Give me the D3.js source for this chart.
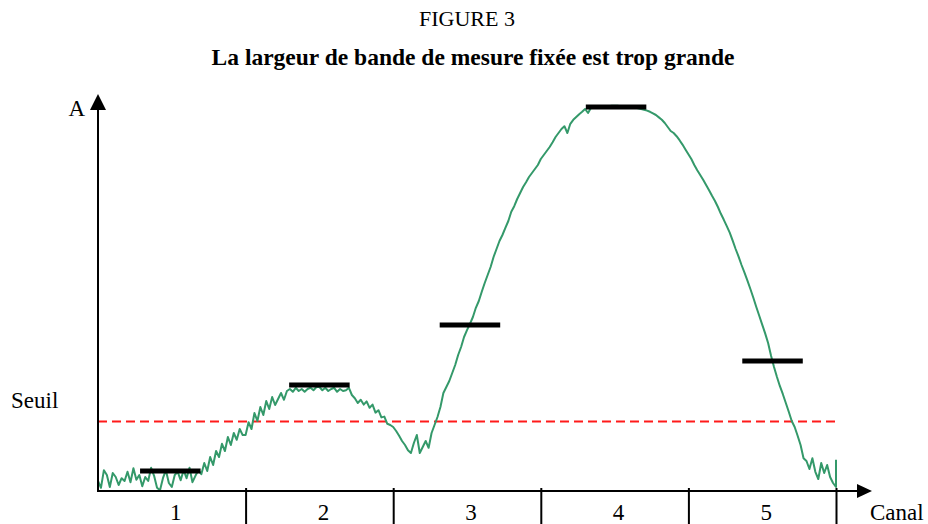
<!DOCTYPE html>
<html lang="fr">
<head>
    <meta charset="UTF-8">
    <title>Figure 3</title>
    <script src="https://d3js.org/d3.v7.min.js"></script>
    <style>
        body {
            margin: 0;
            background: #fff;
        }
        svg text {
            font-family: "Liberation Serif", "Times New Roman", serif;
            fill: #000;
        }
    </style>
</head>
<body>
<div id="chart"></div>
<script>
    // ---- data ----
    var channels = ["1", "2", "3", "4", "5"];
    var samplesPerChannel = 50;

    // measured spectrum, one value every 1/50 of a channel (A, arbitrary units)
    var spectrum = [
        // canal 1
        2.5, 0.8, 5.2, 4, 1, 4.5, 3.5, 1.5, 3.2, 2.5,
        4.8, 2.2, 5.7, 2.8, 4, 1.2, 3.5, 2.5, 5.8, 3.8,
        0.8, 0.2, 3.2, 5.2, 2, 1, 4, 4.8, 2.7, 5.2,
        3.2, 5.8, 2.2, 3.8, 5.2, 4.2, 7, 5, 8.5, 6.5,
        10, 8.5, 11.8, 10, 13.5, 11.5, 14.5, 12.8, 15.5, 14,
        // canal 2
        14, 17.2, 15.5, 19.5, 17.5, 21, 19, 22.5, 20.5, 23.5,
        21.5, 23, 24.5, 22.8, 25, 25.5, 24.8, 25.8, 25, 25.5,
        24.8, 25.5, 25.8, 25.2, 26, 26, 25.2, 25.8, 25, 25.5,
        25.8, 24.8, 25.5, 25, 25.2, 25.8, 24, 23.2, 22, 22.8,
        21.6, 22.4, 20.8, 21.6, 19.6, 20.2, 18.4, 18.6, 16.8, 16.5,
        // canal 3
        16, 15, 13.8, 12.5, 11.5, 10.2, 9.5, 12, 14, 9.5,
        11, 12.5, 10.8, 14.5, 16.5, 18.5, 21, 24.5, 26, 27.5,
        29.5, 31.5, 34, 36, 38.5, 40.2, 41.8, 43.5, 45.8, 47.5,
        49.8, 52, 54, 56, 58.5, 60.5, 62.5, 64, 65.8, 67.5,
        69.8, 71.2, 73, 74.5, 76, 77.2, 78.5, 79.5, 80.5, 81.5,
        // canal 4
        83, 84, 85, 86, 87.2, 88.5, 89.5, 90.5, 91.2, 89.5,
        91.8, 92.8, 93.5, 94.2, 94.8, 95.5, 94.5, 95.8, 95.8, 96,
        96, 96.2, 96.2, 96.2, 96.3, 96.3, 96.3, 96.2, 96.2, 96.1,
        96, 95.9, 95.8, 95.7, 95.5, 95.3, 95.1, 94.8, 94.4, 94,
        93.4, 92.8, 92, 91, 90, 89.5, 88.7, 87.7, 86.6, 85.4,
        // canal 5
        84.2, 83, 81.5, 80.2, 79, 77.8, 76.5, 75.2, 73.8, 72.5,
        71, 69.3, 67.8, 66.2, 64.6, 62.6, 60.5, 58.6, 56.5, 54.6,
        52.6, 50.5, 48.3, 46, 43.8, 41.6, 39.4, 37, 33.8, 31,
        28.5, 26.2, 24.2, 22, 19.8, 17.5, 16, 13.8, 11.5, 8.2,
        7.5, 5.5, 8.2, 4.8, 3, 7, 4.5, 6.5, 3.5, 2,
        1
    ];
    var tailSpike = 7.8;   // last sample jumps back up at the edge of canal 5

    // level measured in each canal with the fixed measurement bandwidth
    var barLevels = [5, 26.5, 41.5, 96, 32.5];
    var barCenters = [0.49, 1.5, 2.52, 3.51, 4.57];   // in canal units
    var barWidth = 0.41;                              // in canal units

    var threshold = 17.4;   // "Seuil"

    // ---- layout ----
    var W = 928, H = 524;
    var x0 = 98, x1 = 836, yBase = 491, yPeak = 107;

    var svg = d3.select("#chart")
        .append("svg")
        .attr("width", W)
        .attr("height", H);

    var x = d3.scaleLinear().domain([0, channels.length]).range([x0, x1]);
    var y = d3.scaleLinear().domain([0, 96]).range([yBase, yPeak]);

    // titles
    svg.append("text")
        .attr("x", 467).attr("y", 26)
        .attr("text-anchor", "middle")
        .style("font-size", "22px")
        .text("FIGURE 3");

    svg.append("text")
        .attr("x", 473).attr("y", 65)
        .attr("text-anchor", "middle")
        .style("font-size", "23.5px")
        .style("font-weight", "bold")
        .text("La largeur de bande de mesure fixée est trop grande");

    // threshold (dashed red)
    svg.append("line")
        .attr("x1", x(0)).attr("x2", x(channels.length))
        .attr("y1", y(threshold)).attr("y2", y(threshold))
        .attr("stroke", "#ff1a1a")
        .attr("stroke-width", 2)
        .attr("stroke-dasharray", "9,5");

    // spectrum
    var points = spectrum.map(function(v, i) { return [i / samplesPerChannel, v]; });
    points.push([channels.length, tailSpike]);

    svg.append("path")
        .datum(points)
        .attr("fill", "none")
        .attr("stroke", "#34996a")
        .attr("stroke-width", 2)
        .attr("stroke-linejoin", "round")
        .attr("d", d3.line()
            .x(function(d) { return x(d[0]); })
            .y(function(d) { return y(d[1]); }));

    // measured levels (black bars)
    svg.append("g")
        .selectAll("line")
        .data(barLevels)
        .enter()
        .append("line")
        .attr("x1", function(d, i) { return x(barCenters[i] - barWidth / 2); })
        .attr("x2", function(d, i) { return x(barCenters[i] + barWidth / 2); })
        .attr("y1", function(d) { return y(d); })
        .attr("y2", function(d) { return y(d); })
        .attr("stroke", "#000")
        .attr("stroke-width", 5);

    // axes
    var xAxis = d3.axisBottom(x)
        .tickValues(d3.range(1, channels.length + 1))
        .tickSizeInner(36)
        .tickSizeOuter(0)
        .tickFormat("");

    var gx = svg.append("g")
        .attr("transform", "translate(0," + (yBase - 3) + ")")
        .call(xAxis);
    gx.select(".domain").remove();
    gx.selectAll(".tick line").attr("stroke", "#000").attr("stroke-width", 2);

    svg.append("line")
        .attr("x1", x0 - 1).attr("x2", 860)
        .attr("y1", yBase).attr("y2", yBase)
        .attr("stroke", "#000").attr("stroke-width", 2);
    svg.append("path")
        .attr("d", "M872," + yBase + "L857," + (yBase - 7) + "L857," + (yBase + 7) + "Z")
        .attr("fill", "#000");

    svg.append("line")
        .attr("x1", x0).attr("x2", x0)
        .attr("y1", yBase + 1).attr("y2", 106)
        .attr("stroke", "#000").attr("stroke-width", 2);
    svg.append("path")
        .attr("d", "M" + x0 + ",94L" + (x0 - 8) + ",110L" + (x0 + 8) + ",110Z")
        .attr("fill", "#000");

    // channel labels
    svg.append("g")
        .selectAll("text")
        .data(channels)
        .enter()
        .append("text")
        .attr("x", function(d, i) { return x(i + 0.5) + 4; })
        .attr("y", 519.5)
        .attr("text-anchor", "middle")
        .style("font-size", "23px")
        .text(function(d) { return d; });

    // axis names
    svg.append("text")
        .attr("x", 85).attr("y", 116)
        .attr("text-anchor", "end")
        .style("font-size", "23px")
        .text("A");

    svg.append("text")
        .attr("x", 870).attr("y", 519.5)
        .style("font-size", "23px")
        .text("Canal");

    svg.append("text")
        .attr("x", 11).attr("y", 408)
        .style("font-size", "23px")
        .text("Seuil");
</script>
</body>
</html>
